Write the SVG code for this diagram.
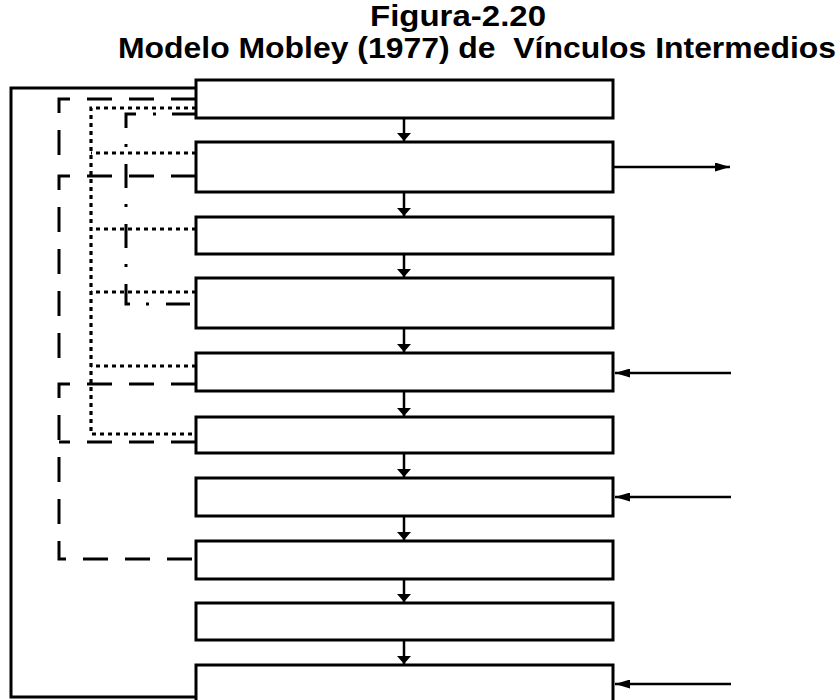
<svg xmlns="http://www.w3.org/2000/svg" width="840" height="700" viewBox="0 0 840 700">
<style>
.box{fill:#fff;stroke:#000;stroke-width:3}
.title{font-family:"Liberation Sans",Arial,sans-serif;font-weight:bold;font-size:29px;fill:#000}
.solid{fill:none;stroke:#000;stroke-width:3}
.dash{fill:none;stroke:#000;stroke-width:3;stroke-dasharray:25 17}
.dot{fill:none;stroke:#000;stroke-width:3.2;stroke-dasharray:4 4}
.dashdot{fill:none;stroke:#000;stroke-width:3;stroke-dasharray:24 16 3 17}
.arr{fill:none;stroke:#000;stroke-width:2.5}
</style>
<defs>
<marker id="hv" markerUnits="userSpaceOnUse" markerWidth="9" markerHeight="14" viewBox="0 0 9 14" refX="8" refY="7" orient="auto">
<path d="M0,0 L8,7 L0,14 Z" fill="#000"/>
</marker>
<marker id="hh" markerUnits="userSpaceOnUse" markerWidth="16" markerHeight="9" viewBox="0 0 16 9" refX="15" refY="4.5" orient="auto">
<path d="M0,0 L15,4.5 L0,9 Z" fill="#000"/>
</marker>
</defs>
<rect width="840" height="700" fill="#fff"/>
<g id="title">
<text class="title" x="370" y="26" textLength="176" lengthAdjust="spacingAndGlyphs">Figura-2.20</text>
<text class="title" x="118" y="58" textLength="718" lengthAdjust="spacingAndGlyphs" xml:space="preserve">Modelo Mobley (1977) de  Vínculos Intermedios</text>
</g>
<g id="connectors">
<path class="solid" d="M196,88 H11 V697 H196"/>
<path class="dash" d="M196,99 H59 V160"/>
<path class="dash" d="M196,176 H59 V370"/>
<path class="dash" d="M196,384 H59 V559 H196"/>
<path class="dash" d="M196,442 H59"/>
<path class="dot" d="M196,108 H91 V434 H196"/>
<path class="dot" d="M196,153 H91"/>
<path class="dot" d="M196,229 H91"/>
<path class="dot" d="M196,292 H91"/>
<path class="dot" d="M196,366 H91"/>
<path class="dashdot" d="M196,114 H126 V304 H196"/>
<line class="arr" x1="404" y1="119" x2="404" y2="141" marker-end="url(#hv)"/>
<line class="arr" x1="404" y1="193" x2="404" y2="216" marker-end="url(#hv)"/>
<line class="arr" x1="404" y1="255" x2="404" y2="277" marker-end="url(#hv)"/>
<line class="arr" x1="404" y1="329" x2="404" y2="352" marker-end="url(#hv)"/>
<line class="arr" x1="404" y1="392" x2="404" y2="416" marker-end="url(#hv)"/>
<line class="arr" x1="404" y1="454" x2="404" y2="477" marker-end="url(#hv)"/>
<line class="arr" x1="404" y1="517" x2="404" y2="540" marker-end="url(#hv)"/>
<line class="arr" x1="404" y1="580" x2="404" y2="602" marker-end="url(#hv)"/>
<line class="arr" x1="404" y1="641" x2="404" y2="664" marker-end="url(#hv)"/>
<line class="arr" x1="614" y1="167" x2="730" y2="167" marker-end="url(#hh)"/>
<line class="arr" x1="731" y1="373" x2="615" y2="373" marker-end="url(#hh)"/>
<line class="arr" x1="731" y1="497" x2="615" y2="497" marker-end="url(#hh)"/>
<line class="arr" x1="731" y1="684" x2="615" y2="684" marker-end="url(#hh)"/>
</g>
<g id="n1"><rect class="box" x="196" y="80" width="417" height="38"/></g>
<g id="n2"><rect class="box" x="196" y="142" width="417" height="50"/></g>
<g id="n3"><rect class="box" x="196" y="217" width="417" height="37"/></g>
<g id="n4"><rect class="box" x="196" y="278" width="417" height="50"/></g>
<g id="n5"><rect class="box" x="196" y="353" width="417" height="38"/></g>
<g id="n6"><rect class="box" x="196" y="417" width="417" height="36"/></g>
<g id="n7"><rect class="box" x="196" y="478" width="417" height="38"/></g>
<g id="n8"><rect class="box" x="196" y="541" width="417" height="38"/></g>
<g id="n9"><rect class="box" x="196" y="603" width="417" height="37"/></g>
<g id="n10"><rect class="box" x="196" y="665" width="417" height="45"/></g>
</svg>
